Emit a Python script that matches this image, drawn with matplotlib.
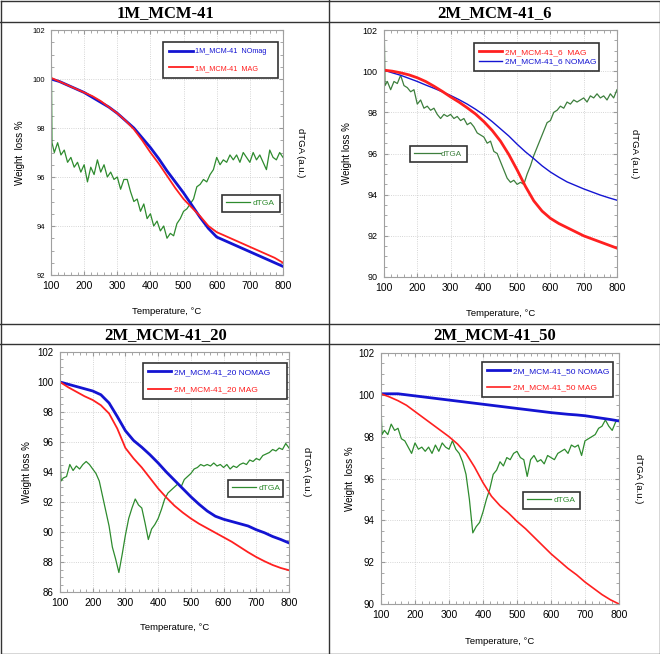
import matplotlib
matplotlib.use("Agg")
import matplotlib.pyplot as plt
from matplotlib.ticker import MultipleLocator

plt.rcParams['font.family'] = 'sans-serif'
plt.rcParams['font.sans-serif'] = ['Liberation Sans', 'DejaVu Sans']
SANS = ['Liberation Sans', 'DejaVu Sans']

# ---- data ----
t_tga = [100, 125, 150, 175, 200, 225, 250, 275, 300, 325, 350, 375, 400, 425, 450,
         475, 500, 525, 550, 575, 600, 625, 650, 675, 700, 725, 750, 775, 800]

t_dtga = [100, 101, 103, 110, 120, 130, 140, 150, 160, 170, 180, 190, 200, 210, 220,
          230, 240, 250, 260, 270, 280, 290, 300, 310, 320, 330, 340, 350, 360, 370,
          380, 390, 400, 410, 420, 430, 440, 450, 460, 470, 480, 490, 500, 510, 520,
          530, 540, 550, 560, 570, 580, 590, 600, 610, 620, 630, 640, 650, 660, 670,
          680, 690, 700, 710, 720, 730, 740, 750, 760, 770, 780, 790, 800]

# 1M_MCM-41
p1_nomag = [100.0, 99.9, 99.75, 99.6, 99.45, 99.25, 99.05, 98.85, 98.6, 98.3, 98.0, 97.6,
            97.2, 96.75, 96.25, 95.8, 95.35, 94.85, 94.35, 93.9, 93.55, 93.4, 93.25, 93.1,
            92.95, 92.8, 92.65, 92.5, 92.35]
p1_mag = [100.05, 99.9, 99.75, 99.6, 99.45, 99.3, 99.1, 98.85, 98.6, 98.3, 97.95, 97.5,
          97.0, 96.55, 96.05, 95.55, 95.1, 94.75, 94.4, 94.0, 93.75, 93.6, 93.45, 93.3,
          93.15, 93.0, 92.85, 92.7, 92.5]
p1_dtga = [98.3, 100.9, 97.4, 97.0, 97.4, 96.9, 97.1, 96.6, 96.8, 96.4, 96.6, 96.2, 96.5,
           95.8, 96.4, 96.1, 96.7, 96.2, 96.5, 96.0, 96.2, 95.9, 96.0, 95.5, 95.9, 95.9,
           95.4, 95.0, 95.1, 94.6, 94.9, 94.3, 94.5, 94.0, 94.2, 93.8, 94.0, 93.5, 93.7,
           93.6, 94.1, 94.3, 94.6, 94.7, 94.9, 95.1, 95.6, 95.7, 95.9, 95.8, 96.1, 96.3,
           96.8, 96.5, 96.7, 96.6, 96.9, 96.7, 96.9, 96.6, 97.0, 96.8, 96.6, 97.0, 96.7,
           96.9, 96.6, 96.3, 97.1, 96.8, 96.7, 97.0, 96.8]

# 2M_MCM-41_6
p2_mag = [100.05, 100.0, 99.92, 99.82, 99.68, 99.5, 99.27, 99.02, 98.75, 98.5, 98.22,
          97.92, 97.55, 97.12, 96.6, 95.95, 95.2, 94.4, 93.7, 93.2, 92.85, 92.6, 92.4,
          92.2, 92.0, 91.85, 91.7, 91.55, 91.4]
p2_nomag = [100.05, 99.92, 99.8, 99.65, 99.5, 99.33, 99.17, 99.0, 98.82, 98.62, 98.4,
            98.15, 97.87, 97.55, 97.2, 96.85, 96.45, 96.08, 95.75, 95.4, 95.1, 94.85,
            94.62, 94.45, 94.28, 94.13, 93.98, 93.85, 93.73]
p2_dtga = [100.0, 101.8, 99.3, 99.5, 99.1, 99.5, 99.4, 99.8, 99.3, 99.2, 99.0, 99.1, 98.4,
           98.6, 98.2, 98.3, 98.1, 98.2, 97.9, 97.7, 97.9, 97.8, 97.9, 97.7, 97.8, 97.6,
           97.7, 97.4, 97.5, 97.3, 97.0, 96.9, 96.8, 96.5, 96.6, 96.1, 96.0, 95.6, 95.2,
           94.8, 94.6, 94.7, 94.5, 94.6, 94.5, 95.0, 95.4, 95.9, 96.3, 96.7, 97.1, 97.5,
           97.6, 98.0, 98.1, 98.3, 98.2, 98.5, 98.4, 98.6, 98.5, 98.6, 98.7, 98.5, 98.8,
           98.7, 98.9, 98.7, 98.8, 98.6, 98.9, 98.7, 99.1]

# 2M_MCM-41_20
p3_nomag = [100.0, 99.85, 99.7, 99.55, 99.4, 99.15, 98.6, 97.7, 96.75, 96.1, 95.65, 95.15,
            94.6, 94.0, 93.45, 92.9, 92.35, 91.85, 91.4, 91.05, 90.85, 90.7, 90.55, 90.4,
            90.15, 89.95, 89.7, 89.5, 89.27]
p3_mag = [100.0, 99.65, 99.35, 99.05, 98.8, 98.45, 97.9, 96.9, 95.6, 94.9, 94.3, 93.6,
          92.9, 92.3, 91.75, 91.3, 90.9, 90.55, 90.25, 89.95, 89.65, 89.35, 89.0, 88.65,
          88.33, 88.05, 87.8, 87.6, 87.45]
p3_dtga = [96.0, 94.6, 93.4, 93.6, 93.7, 94.5, 94.1, 94.4, 94.2, 94.5, 94.7, 94.5, 94.2,
           93.9, 93.4, 92.4, 91.4, 90.4, 89.0, 88.2, 87.3, 88.5, 89.8, 90.9, 91.6, 92.2,
           91.8, 91.6, 90.6, 89.5, 90.2, 90.5, 90.9, 91.5, 92.2, 92.6, 92.8, 93.0, 93.2,
           93.0, 93.5, 93.7, 93.9, 94.2, 94.3, 94.5, 94.4, 94.5, 94.4, 94.6, 94.4, 94.5,
           94.3, 94.5, 94.2, 94.4, 94.3, 94.5, 94.6, 94.5, 94.8, 94.7, 94.9, 94.8, 95.1,
           95.2, 95.3, 95.5, 95.4, 95.6, 95.5, 95.9, 95.6]

# 2M_MCM-41_50
p4_nomag = [100.05, 100.05, 100.05, 100.0, 99.95, 99.9, 99.85, 99.8, 99.75, 99.7, 99.65,
            99.6, 99.55, 99.5, 99.45, 99.4, 99.35, 99.3, 99.25, 99.2, 99.15, 99.11, 99.07,
            99.04, 99.0, 98.94, 98.88, 98.82, 98.75]
p4_mag = [100.05, 99.9, 99.72, 99.5, 99.2, 98.9, 98.6, 98.3, 98.0, 97.65, 97.2, 96.55,
          95.8, 95.15, 94.7, 94.35, 93.95, 93.6, 93.2, 92.8, 92.4, 92.05, 91.7, 91.4,
          91.05, 90.75, 90.45, 90.2, 90.0]
p4_dtga = [100.2, 99.0, 98.1, 98.3, 98.1, 98.6, 98.3, 98.4, 97.9, 97.8, 97.5, 97.2, 97.7,
           97.4, 97.5, 97.3, 97.5, 97.2, 97.6, 97.3, 97.7, 97.5, 97.4, 97.8, 97.4, 97.2,
           96.8, 96.2, 95.0, 93.4, 93.7, 93.9, 94.4, 95.0, 95.5, 96.2, 96.4, 96.8, 96.6,
           97.0, 96.9, 97.2, 97.3, 97.0, 96.9, 96.1, 96.9, 97.1, 96.8, 96.9, 96.7, 97.1,
           97.0, 96.9, 97.2, 97.3, 97.4, 97.2, 97.6, 97.5, 97.6, 97.1, 97.8, 97.9, 98.0,
           98.1, 98.4, 98.5, 98.8, 98.5, 98.3, 98.7, 98.8]

titles = ["1M_MCM-41", "2M_MCM-41_6", "2M_MCM-41_20", "2M_MCM-41_50"]

W, H = 660, 654
BLUE = '#1414d2'
RED = '#ff2020'
GREEN = '#2e8b2e'

fig = plt.figure(figsize=(W / 100, H / 100), dpi=100)

# table frame + header titles (pixel coordinates)
bg = fig.add_axes([0, 0, 1, 1])
bg.set_xlim(0, W)
bg.set_ylim(H, 0)
bg.axis('off')
lc = '#333333'
bg.plot([0.5, W - 0.5, W - 0.5, 0.5, 0.5], [0.5, 0.5, H - 0.5, H - 0.5, 0.5], color=lc, lw=1)
bg.plot([329, 329], [0, H], color=lc, lw=1)
for yy in (21.5, 323.5, 343.5):
    bg.plot([0, W], [yy, yy], color=lc, lw=1)
for t, (cx, cy) in zip(titles, [(166, 17), (495, 17), (166, 339), (495, 339)]):
    bg.text(cx, cy, t, ha='center', va='baseline', fontsize=12, fontweight='bold',
            fontfamily=['Liberation Serif', 'DejaVu Serif'])


def px_axes(x0, y0, x1, y1):
    return fig.add_axes([x0 / W, 1 - y1 / H, (x1 - x0) / W, (y1 - y0) / H])


def px_legend(ax, handles, box, fs, spacing, hlen, bpad=0.6, tpad=0.35):
    x0, y0, x1, y1 = box
    leg = ax.legend(handles=handles, loc='upper left', mode='expand',
                    bbox_to_anchor=(x0 / W, 1 - y0 / H, (x1 - x0) / W, 0.001),
                    bbox_transform=fig.transFigure,
                    prop={'family': SANS, 'size': fs}, labelcolor='linecolor',
                    fancybox=False, framealpha=1, edgecolor='#333333', borderpad=bpad,
                    labelspacing=spacing, handlelength=hlen, handletextpad=tpad,
                    borderaxespad=0)
    leg.get_frame().set_linewidth(1.2)
    return leg


def setup(ax, ylo, yhi, ytick_fs, ylabel, ylab_x, xlab_y, rlab_x):
    ax.set_xlim(100, 800)
    ax.set_ylim(ylo, yhi)
    ax.xaxis.set_major_locator(MultipleLocator(100))
    ax.xaxis.set_minor_locator(MultipleLocator(20))
    ax.yaxis.set_major_locator(MultipleLocator(2))
    ax.yaxis.set_minor_locator(MultipleLocator(0.5))
    ax.tick_params(which='both', direction='in', top=True, right=True, color='#999999')
    ax.tick_params(axis='x', labelsize=7.5, pad=4)
    ax.tick_params(axis='y', labelsize=ytick_fs, pad=4.5)
    ax.tick_params(which='major', length=3)
    ax.tick_params(which='minor', length=2)
    for lab in ax.get_xticklabels() + ax.get_yticklabels():
        lab.set_fontfamily(SANS)
    for s in ax.spines.values():
        s.set_color('#a0a0a0')
    ax.grid(True, linestyle=':', color='#c8c8c8', linewidth=0.6)
    # axis titles placed in pixel coordinates
    bb = ax.get_position()
    ymid = (1 - (bb.y0 + bb.y1) / 2) * H
    xmid = (bb.x0 + bb.x1) / 2 * W
    bg.text(ylab_x, ymid, ylabel, rotation=90, ha='center', va='center', fontsize=7,
            fontfamily=SANS)
    bg.text(rlab_x, ymid, "dTGA (a.u.)", rotation=-90, ha='center', va='center',
            fontsize=6.8, fontfamily=SANS)
    bg.text(xmid, xlab_y, "Temperature, °C", ha='center', va='center', fontsize=6.8,
            fontfamily=SANS)


# ---- panel 1 ----
ax1 = px_axes(51, 30, 283, 275)
setup(ax1, 92, 102, 5.5, "Weight  loss %", 20, 312, 300)
g1, = ax1.plot(t_dtga, p1_dtga, color=GREEN, lw=0.9, label='dTGA')
b1, = ax1.plot(t_tga, p1_nomag, color=BLUE, lw=2, label='1M_MCM-41  NOmag')
r1, = ax1.plot(t_tga, p1_mag, color=RED, lw=1.3, label='1M_MCM-41  MAG')
ax1.add_artist(px_legend(ax1, [b1, r1], (163, 43, 278, 76), 5.2, 1.35, 3.3, 0.8, 0.3))
px_legend(ax1, [g1], (222, 196, 280, 213), 6, 0.5, 2.9, 0.5, 0.3)

# ---- panel 2 ----
ax2 = px_axes(384, 30, 617, 277)
setup(ax2, 90, 102, 6.5, "Weight loss %", 347, 314, 634)
g2, = ax2.plot(t_dtga, p2_dtga, color='#3d7f3d', lw=0.9, label='dTGA')
b2, = ax2.plot(t_tga, p2_nomag, color=BLUE, lw=1, label='2M_MCM-41_6 NOMAG')
r2, = ax2.plot(t_tga, p2_mag, color=RED, lw=2, label='2M_MCM-41_6  MAG')
ax2.add_artist(px_legend(ax2, [r2, b2], (474, 44, 599, 71), 6, 0.2, 2.8, 0.6, 0.35))
px_legend(ax2, [g2], (410, 147, 467, 164), 5.8, 0.5, 3.3, 0.5, 0.05)

# ---- panel 3 ----
ax3 = px_axes(60, 352, 289, 592)
setup(ax3, 86, 102, 7, "Weight loss %", 27, 628, 307)
g3, = ax3.plot(t_dtga, p3_dtga, color=GREEN, lw=0.9, label='dTGA')
b3, = ax3.plot(t_tga, p3_nomag, color=BLUE, lw=2, label='2M_MCM-41_20 NOMAG')
r3, = ax3.plot(t_tga, p3_mag, color=RED, lw=1.3, label='2M_MCM-41_20 MAG')
ax3.add_artist(px_legend(ax3, [b3, r3], (143, 364, 287, 398), 6, 1.15, 2.8, 0.6, 0.35))
px_legend(ax3, [g3], (228, 481, 283, 497), 6, 0.5, 2.9, 0.5, 0.3)

# ---- panel 4 ----
ax4 = px_axes(381, 353, 619, 604)
setup(ax4, 90, 102, 7, "Weight  loss %", 350, 642, 638)
g4, = ax4.plot(t_dtga, p4_dtga, color=GREEN, lw=0.9, label='dTGA')
b4, = ax4.plot(t_tga, p4_nomag, color=BLUE, lw=2, label='2M_MCM-41_50 NOMAG')
r4, = ax4.plot(t_tga, p4_mag, color=RED, lw=1.2, label='2M_MCM-41_50 MAG')
ax4.add_artist(px_legend(ax4, [b4, r4], (482, 363, 613, 397), 6, 1.05, 2.8, 0.6, 0.35))
px_legend(ax4, [g4], (523, 493, 580, 509), 6, 0.5, 2.9, 0.5, 0.3)

fig.savefig("out.png", dpi=100)
